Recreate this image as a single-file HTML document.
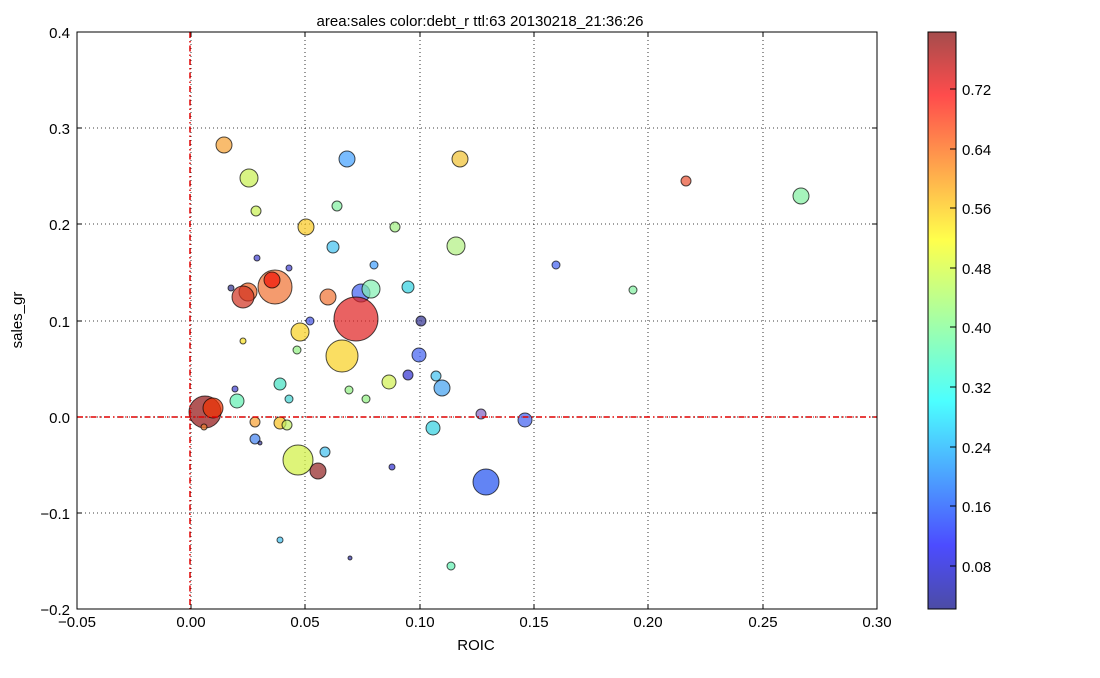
<!DOCTYPE html>
<html><head><meta charset="utf-8"><style>body{margin:0;background:#fff}svg{display:block}text{font-family:"Liberation Sans",sans-serif;fill:#000}</style></head><body>
<svg width="1100" height="678" xmlns="http://www.w3.org/2000/svg">
<defs><linearGradient id="jet" x1="0" y1="1" x2="0" y2="0">
<stop offset="0" stop-color="#00007f"/><stop offset="0.11" stop-color="#0000ff"/><stop offset="0.36" stop-color="#00ffff"/><stop offset="0.5" stop-color="#7fff7f"/><stop offset="0.64" stop-color="#ffff00"/><stop offset="0.89" stop-color="#ff0000"/><stop offset="1" stop-color="#7f0000"/></linearGradient></defs>
<text x="480" y="26" font-size="15" text-anchor="middle">area:sales  color:debt_r  ttl:63  20130218_21:36:26</text>
<g stroke="#000" stroke-width="0.8" stroke-dasharray="1,3">
<line x1="191" y1="32" x2="191" y2="609"/><line x1="305" y1="32" x2="305" y2="609"/><line x1="420" y1="32" x2="420" y2="609"/><line x1="534" y1="32" x2="534" y2="609"/><line x1="648" y1="32" x2="648" y2="609"/><line x1="763" y1="32" x2="763" y2="609"/>
<line x1="77" y1="128" x2="877" y2="128"/><line x1="77" y1="224" x2="877" y2="224"/><line x1="77" y1="321" x2="877" y2="321"/><line x1="77" y1="417" x2="877" y2="417"/><line x1="77" y1="513" x2="877" y2="513"/>
</g>
<g stroke="#000" stroke-width="1">
<path d="M191 609v-5M305 609v-5M420 609v-5M534 609v-5M648 609v-5M763 609v-5M191 32v5M305 32v5M420 32v5M534 32v5M648 32v5M763 32v5"/>
<path d="M77 128h5M77 224h5M77 321h5M77 417h5M77 513h5M877 128h-5M877 224h-5M877 321h-5M877 417h-5M877 513h-5"/>
</g>
<g stroke="#000" stroke-opacity="0.7" stroke-width="1" fill-opacity="0.7">
<circle cx="224" cy="145" r="8" fill="#f5a030"/><circle cx="249" cy="178" r="9" fill="#c8f050"/><circle cx="347" cy="159" r="8" fill="#40a0ff"/><circle cx="460" cy="159" r="8" fill="#f0c030"/><circle cx="686" cy="181" r="5" fill="#e85030"/><circle cx="801" cy="196" r="8" fill="#80f0a0"/><circle cx="256" cy="211" r="5" fill="#c8f050"/><circle cx="306" cy="227" r="8" fill="#f8c820"/><circle cx="337" cy="206" r="5" fill="#80f0a0"/><circle cx="395" cy="227" r="5" fill="#a0f080"/><circle cx="333" cy="247" r="6" fill="#40c0f0"/><circle cx="456" cy="246" r="9" fill="#b0f080"/><circle cx="257" cy="258" r="3" fill="#4040d0"/><circle cx="289" cy="268" r="3" fill="#4040d0"/><circle cx="374" cy="265" r="4" fill="#40a0ff"/><circle cx="556" cy="265" r="4" fill="#4060f0"/><circle cx="633" cy="290" r="4" fill="#80f0a0"/><circle cx="231" cy="288" r="3" fill="#303090"/><circle cx="275" cy="287" r="17" fill="#f07030"/><circle cx="272" cy="280" r="8" fill="#f01000"/><circle cx="248" cy="292" r="9" fill="#f06020"/><circle cx="243" cy="297" r="11" fill="#d03020"/><circle cx="328" cy="297" r="8" fill="#f07030"/><circle cx="361" cy="293" r="9" fill="#4060f0"/><circle cx="371" cy="289" r="9" fill="#80f0b0"/><circle cx="408" cy="287" r="6" fill="#30d0e0"/><circle cx="310" cy="321" r="4" fill="#4050e0"/><circle cx="421" cy="321" r="5" fill="#303090"/><circle cx="356" cy="319" r="22" fill="#e02020"/><circle cx="300" cy="332" r="9" fill="#f8d020"/><circle cx="243" cy="341" r="3" fill="#f8e020"/><circle cx="297" cy="350" r="4" fill="#90f080"/><circle cx="342" cy="356" r="16" fill="#f8d020"/><circle cx="419" cy="355" r="7" fill="#4060f0"/><circle cx="235" cy="389" r="3" fill="#4040d0"/><circle cx="280" cy="384" r="6" fill="#40e0c0"/><circle cx="349" cy="390" r="4" fill="#90f080"/><circle cx="366" cy="399" r="4" fill="#90f080"/><circle cx="389" cy="382" r="7" fill="#d0f050"/><circle cx="408" cy="375" r="5" fill="#3030d0"/><circle cx="436" cy="376" r="5" fill="#40c0f0"/><circle cx="442" cy="388" r="8" fill="#40a0f0"/><circle cx="289" cy="399" r="4" fill="#40d0d0"/><circle cx="237" cy="401" r="7" fill="#60f0b0"/><circle cx="205" cy="412" r="16" fill="#901010"/><circle cx="213" cy="408" r="10" fill="#f03000"/><circle cx="204" cy="427" r="3" fill="#f08030"/><circle cx="255" cy="422" r="5" fill="#f8a030"/><circle cx="280" cy="423" r="6" fill="#f8c020"/><circle cx="287" cy="425" r="5" fill="#c0f060"/><circle cx="433" cy="428" r="7" fill="#30d0e0"/><circle cx="481" cy="414" r="5" fill="#8060c0"/><circle cx="525" cy="420" r="7" fill="#4060f0"/><circle cx="255" cy="439" r="5" fill="#4080f0"/><circle cx="260" cy="443" r="2" fill="#303090"/><circle cx="325" cy="452" r="5" fill="#40c0f0"/><circle cx="298" cy="460" r="15" fill="#d0f040"/><circle cx="318" cy="471" r="8" fill="#902020"/><circle cx="392" cy="467" r="3" fill="#3030d0"/><circle cx="486" cy="482" r="13" fill="#2050f0"/><circle cx="280" cy="540" r="3" fill="#40c0f0"/><circle cx="350" cy="558" r="2" fill="#3030a0"/><circle cx="451" cy="566" r="4" fill="#60f0b0"/>
</g>
<g stroke="#e00000" stroke-width="1.5" stroke-dasharray="6,3,1.5,3">
<line x1="190" y1="32" x2="190" y2="609"/><line x1="77" y1="417" x2="877" y2="417"/></g>
<rect x="77" y="32" width="800" height="577" fill="none" stroke="#000"/>
<g font-size="15" text-anchor="middle">
<text x="77" y="627">−0.05</text><text x="191" y="627">0.00</text><text x="305" y="627">0.05</text><text x="420" y="627">0.10</text><text x="534" y="627">0.15</text><text x="648" y="627">0.20</text><text x="763" y="627">0.25</text><text x="877" y="627">0.30</text>
<text x="476" y="650">ROIC</text></g>
<g font-size="15" text-anchor="end">
<text x="70" y="38">0.4</text><text x="70" y="134">0.3</text><text x="70" y="230">0.2</text><text x="70" y="327">0.1</text><text x="70" y="423">0.0</text><text x="70" y="519">−0.1</text><text x="70" y="615">−0.2</text></g>
<text font-size="15" text-anchor="middle" transform="translate(22,320) rotate(-90)">sales_gr</text>
<rect x="928" y="32" width="28" height="577" fill="url(#jet)" fill-opacity="0.7" stroke="#000"/>
<path stroke="#000" d="M950 566h6M950 506h6M950 447h6M950 387h6M950 327h6M950 268h6M950 208h6M950 149h6M950 89h6"/>
<g font-size="15"><text x="962" y="572">0.08</text><text x="962" y="512">0.16</text><text x="962" y="453">0.24</text><text x="962" y="393">0.32</text><text x="962" y="333">0.40</text><text x="962" y="274">0.48</text><text x="962" y="214">0.56</text><text x="962" y="155">0.64</text><text x="962" y="95">0.72</text></g>
</svg></body></html>
